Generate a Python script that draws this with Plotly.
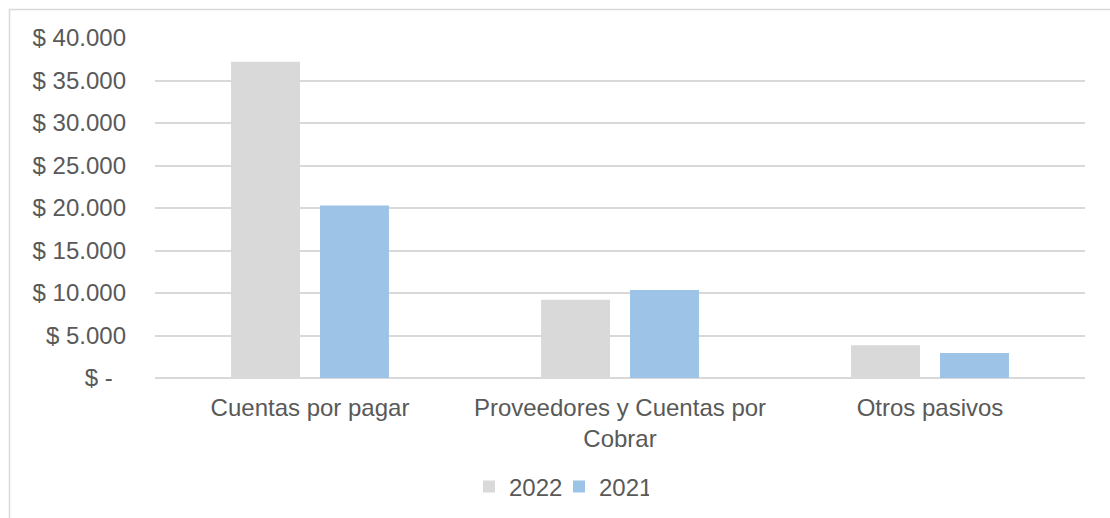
import plotly.graph_objects as go

categories = ["Cuentas por pagar", "Proveedores y Cuentas por<br>Cobrar", "Otros pasivos"]
values_2022 = [37200, 9200, 3850]
values_2021 = [20300, 10350, 2950]
tick_values = [0, 5000, 10000, 15000, 20000, 25000, 30000, 35000, 40000]
tick_labels = ["$ -\u00a0\u00a0", "$ 5.000", "$ 10.000", "$ 15.000", "$ 20.000",
               "$ 25.000", "$ 30.000", "$ 35.000", "$ 40.000"]

W, H = 1110, 518
L, R, T, B = 155, 25, 38, 140
pw, ph = W - L - R, H - T - B

def px_x(x):
    return (x - L) / pw

def px_y(y):
    return (H - B - y) / ph

fig = go.Figure()
fig.add_trace(go.Bar(name="2022", x=categories, y=values_2022, marker_color="#d9d9d9"))
fig.add_trace(go.Bar(name="2021", x=categories, y=values_2021, marker_color="#9dc3e6"))

font = dict(family="Liberation Sans, Arial, sans-serif", size=24, color="#595959")

fig.update_layout(
    template="none",
    width=W, height=H,
    margin=dict(l=L, r=R, t=T, b=B, pad=0, autoexpand=False),
    paper_bgcolor="white", plot_bgcolor="white",
    font=font,
    barmode="group", bargap=0.426, bargroupgap=0.225,
    showlegend=True,
    legend=dict(orientation="h", x=px_x(559), xanchor="center", y=px_y(487), yanchor="middle",
                font=font, itemwidth=30, entrywidth=45, entrywidthmode="pixels",
                bgcolor="rgba(0,0,0,0)"),
    xaxis=dict(showgrid=False, showline=False, zeroline=False, ticks="", tickfont=font,
               ticklabelstandoff=13, automargin=False),
    yaxis=dict(range=[0, 40000], tickvals=tick_values, ticktext=tick_labels,
               showgrid=True, gridcolor="#d9d9d9", gridwidth=1.5,
               zeroline=True, zerolinecolor="#d9d9d9", zerolinewidth=1.5,
               showline=False, ticks="", ticklabelstandoff=28, tickfont=font, automargin=False),
    shapes=[dict(type="rect", xref="paper", yref="paper",
                 x0=px_x(9.5), x1=px_x(1130), y0=px_y(540), y1=px_y(9.5),
                 line=dict(color="#d9d9d9", width=1.5), fillcolor="rgba(0,0,0,0)", layer="below")],
)

fig.write_html("out.html", config={"displayModeBar": False},
               post_script="document.body.style.margin='0';document.body.style.overflow='hidden';")
